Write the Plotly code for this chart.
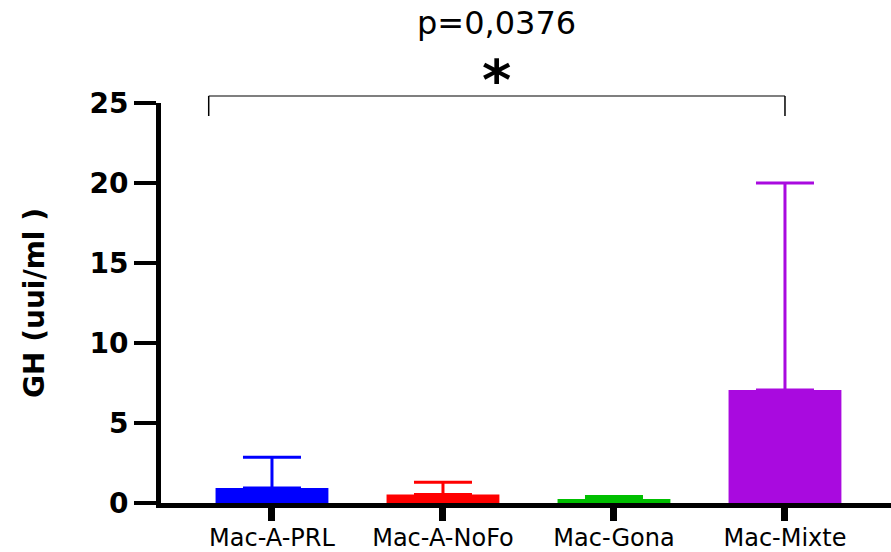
import plotly.graph_objects as go

# Group names and measured values (mean with upper error)
groups = ["Mac-A-PRL", "Mac-A-NoFo", "Mac-Gona", "Mac-Mixte"]
gh_mean = [0.93, 0.53, 0.25, 7.06]
gh_err_upper = [1.93, 0.76, 0.16, 12.94]
bar_colors = ["#0000FF", "#FF0000", "#00BF00", "#A90ADF"]

y_ticks = [0, 5, 10, 15, 20, 25]

# Significance bracket between the first and last group
p_label = "p=0,0376"
star_label = "*"
bracket_left = -0.37
bracket_right = 3.0

fig = go.Figure()

for name, m, e, c in zip(groups, gh_mean, gh_err_upper, bar_colors):
    fig.add_trace(go.Bar(
        x=[name], y=[m],
        marker=dict(color=c, line=dict(width=0)),
        width=0.66,
        error_y=dict(type="data", array=[e], symmetric=False,
                     color=c, thickness=3, width=29),
        showlegend=False,
    ))

# bracket: two legs and a top bar
y_top = 1.0175
y_leg = 0.9675
fig.add_shape(type="line", xref="x", yref="paper", x0=bracket_left, x1=bracket_right,
              y0=y_top, y1=y_top, line=dict(color="#555555", width=1.5))
fig.add_shape(type="line", xref="x", yref="paper", x0=bracket_left, x1=bracket_left,
              y0=y_leg, y1=y_top, line=dict(color="black", width=1.5))
fig.add_shape(type="line", xref="x", yref="paper", x0=bracket_right, x1=bracket_right,
              y0=y_leg, y1=y_top, line=dict(color="black", width=1.5))

mid = (bracket_left + bracket_right) / 2
fig.add_annotation(x=mid, xref="x", y=1.2, yref="paper", text=p_label,
                   showarrow=False, yanchor="middle",
                   font=dict(family="DejaVu Sans", size=32, color="black"))
fig.add_annotation(x=mid, xref="x", y=1.058, yref="paper", text=star_label,
                   showarrow=False, yanchor="middle",
                   font=dict(family="DejaVu Sans", size=56, color="black", weight="bold"))

fig.update_layout(
    width=891, height=552,
    margin=dict(l=161, r=0, t=103, b=49, autoexpand=False),
    paper_bgcolor="white", plot_bgcolor="white",
    bargap=0.34,
    xaxis=dict(
        type="category", range=[-0.649, 3.62],
        showline=True, linecolor="black", linewidth=4.5,
        ticks="outside", ticklen=13, tickwidth=7, tickcolor="black",
        tickangle=0, ticklabelstandoff=-4,
        tickfont=dict(family="DejaVu Sans", size=24, color="black"),
        showgrid=False, zeroline=False,
    ),
    yaxis=dict(
        range=[0, 25], tickvals=y_ticks,
        showline=True, linecolor="black", linewidth=5,
        ticks="outside", ticklen=22, tickwidth=4, tickcolor="black",
        tickfont=dict(family="DejaVu Sans", size=28, color="black", weight="bold"),
        showgrid=False, zeroline=False,
        title=dict(text="GH (uui/ml )", standoff=38,
                   font=dict(family="DejaVu Sans", size=28, color="black", weight="bold")),
    ),
)

fig.write_html("out.html")
